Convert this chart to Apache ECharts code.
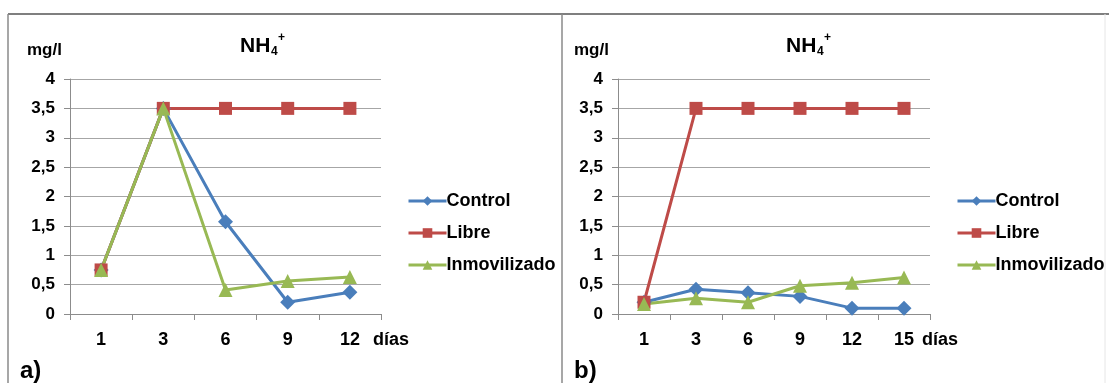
<!DOCTYPE html>
<html>
<head>
<meta charset="utf-8">
<title>NH4+</title>
<script src="https://cdn.jsdelivr.net/npm/echarts@6/dist/echarts.min.js"></script>
<style>
  html,body{margin:0;padding:0;background:#fff;}
  #main{width:1109px;height:383px;}
</style>
</head>
<body>
<div id="main"></div>
<script>
// datos panel a)
var diasA = ['1', '3', '6', '9', '12'];
var controlA = [0.75, 3.5, 1.57, 0.2, 0.37];
var libreA = [0.75, 3.5, 3.5, 3.5, 3.5];
var inmovA = [0.75, 3.5, 0.41, 0.56, 0.63];

// datos panel b)
var diasB = ['1', '3', '6', '9', '12', '15'];
var controlB = [0.2, 0.42, 0.36, 0.3, 0.1, 0.1];
var libreB = [0.2, 3.5, 3.5, 3.5, 3.5, 3.5];
var inmovB = [0.17, 0.27, 0.2, 0.48, 0.53, 0.62];

// eje y
var yMin = 0, yMax = 4, yStep = 0.5;

var font = '"Liberation Sans", Arial, sans-serif';
var azul = '#4a7ebb', rojo = '#be4b48', verde = '#98b954';
var gris = '#8c8c8c';

var myChart = echarts.init(document.getElementById('main'));

function xAxis(idx, data){
    return {
        type: 'category', gridIndex: idx, data: data, boundaryGap: true,
        axisLine: {lineStyle: {color: gris, width: 1}},
        axisTick: {show: true, interval: 0, length: 6, lineStyle: {color: gris}},
        axisLabel: {color: '#000', fontFamily: font, fontWeight: 'bold', fontSize: 18, margin: 17},
        splitLine: {show: false}
    };
}
function yAxis(idx){
    return {
        type: 'value', gridIndex: idx, min: yMin, max: yMax, interval: yStep,
        axisLine: {show: true, lineStyle: {color: gris, width: 1}},
        axisTick: {show: true, length: 6, lineStyle: {color: gris}},
        axisLabel: {
            color: '#000', fontFamily: font, fontWeight: 'bold', fontSize: 17, margin: 15,
            formatter: function(v){ return String(v).replace('.', ','); }
        },
        splitLine: {lineStyle: {color: '#a6a6a6', width: 1}}
    };
}
function serie(name, idx, data, color, symbol, size){
    return {
        name: name, type: 'line', xAxisIndex: idx, yAxisIndex: idx, data: data,
        symbol: symbol, symbolSize: size, showSymbol: true,
        lineStyle: {color: color, width: 3},
        itemStyle: {color: color},
        emphasis: {disabled: true}
    };
}
function leyenda(left){
    return {
        orient: 'vertical', left: left, top: 186, itemWidth: 38, itemHeight: 12, itemGap: 12,
        lineStyle: {width: 3},
        textStyle: {color: '#000', fontFamily: font, fontWeight: 'bold', fontSize: 18, lineHeight: 20, padding: [0, 0, 0, -5]},
        data: ['Control', 'Libre', 'Inmovilizado']
    };
}
function texto(x, y, t, size){
    return {type: 'text', left: x, top: y - size / 2, z: 10,
        style: {text: t, fill: '#000', font: 'bold ' + size + 'px ' + font, textVerticalAlign: 'middle'}};
}
function titulo(x){
    return [
        texto(x, 46, 'NH', 21),
        texto(x + 31, 52, '4', 12),
        texto(x + 38, 38, '+', 12)
    ];
}

var graficos = [
    // marcos
    {type: 'line', shape: {x1: 8, y1: 14, x2: 1109, y2: 14}, style: {stroke: '#7f7f7f', lineWidth: 2}},
    {type: 'line', shape: {x1: 8, y1: 14, x2: 8, y2: 383}, style: {stroke: '#8a8a8a', lineWidth: 1.5}},
    {type: 'line', shape: {x1: 562, y1: 14, x2: 562, y2: 383}, style: {stroke: '#8a8a8a', lineWidth: 1.5}},
    {type: 'line', shape: {x1: 1105, y1: 14, x2: 1105, y2: 383}, style: {stroke: '#e6e6e6', lineWidth: 1}},
    texto(27, 50, 'mg/l', 17),
    texto(574, 50, 'mg/l', 17),
    texto(373, 340, 'días', 18),
    texto(922, 340, 'días', 18),
    texto(20, 371, 'a)', 24),
    texto(574, 371, 'b)', 24)
].concat(titulo(240)).concat(titulo(786));

var option = {
    animation: false,
    backgroundColor: '#fff',
    grid: [
        {left: 70, top: 79, width: 311, height: 235},
        {left: 618, top: 79, width: 312, height: 235}
    ],
    xAxis: [xAxis(0, diasA), xAxis(1, diasB)],
    yAxis: [yAxis(0), yAxis(1)],
    legend: [leyenda(402), leyenda(951)],
    graphic: graficos,
    series: [
        serie('Control', 0, controlA, azul, 'diamond', 15),
        serie('Libre', 0, libreA, rojo, 'rect', 13),
        serie('Inmovilizado', 0, inmovA, verde, 'triangle', 14),
        serie('Control', 1, controlB, azul, 'diamond', 15),
        serie('Libre', 1, libreB, rojo, 'rect', 13),
        serie('Inmovilizado', 1, inmovB, verde, 'triangle', 14)
    ]
};

myChart.setOption(option);
</script>
</body>
</html>
